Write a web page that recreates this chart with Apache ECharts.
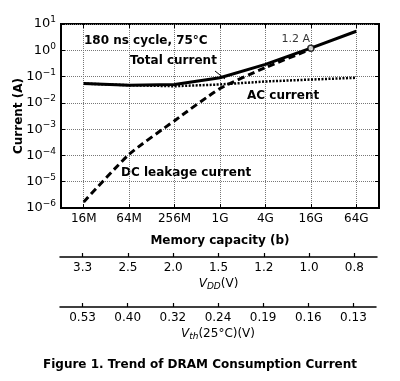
<!DOCTYPE html>
<html><head><meta charset="utf-8">
<script src="https://cdn.jsdelivr.net/npm/echarts@6/dist/echarts.min.js"></script>
<style>html,body{margin:0;padding:0;background:#fff}#c{width:400px;height:381px}</style>
</head><body><div id="c"></div>
<script>
const capacity = ['16M','64M','256M','1G','4G','16G','64G'];
const vdd = ['3.3','2.5','2.0','1.5','1.2','1.0','0.8'];
const vth = ['0.53','0.40','0.32','0.24','0.19','0.16','0.13'];
const totalCurrent = [0.054, 0.047, 0.050, 0.090, 0.29, 1.2, 5.3];
const acCurrent = [0.054, 0.047, 0.043, 0.050, 0.065, 0.077, 0.090];
const dcLeakage = [1.7e-6, 1.1e-4, 2.1e-3, 0.035, 0.22, 1.1, null];
const marker = [[5, 1.2]];

const F = '"DejaVu Sans", "Liberation Sans", sans-serif';
const chart = echarts.init(document.getElementById('c'), null, {renderer:'canvas'});
const sup = v => { const e = Math.round(Math.log10(v)); return '10{s|' + (e < 0 ? '\u2212' + (-e) : e) + '}'; };
const lowerAxis = (grid, data, nameRich) => ({
  type:'category', gridIndex:grid, data:data, position:'bottom', boundaryGap:true,
  axisLine:{show:true, lineStyle:{color:'#000', width:1.5}},
  axisTick:{show:true, inside:true, length:4, alignWithLabel:true, lineStyle:{color:'#000', width:1.2}},
  axisLabel:{color:'#000', fontSize:12, fontFamily:F, margin:5},
  splitLine:{show:false},
  name: nameRich.text, nameLocation:'middle', nameGap:nameRich.gap, nameMoveOverlap:false,
  nameTextStyle:{color:'#000', fontSize:12, fontFamily:F, rich:nameRich.rich}
});
const nameRich = {i:{fontStyle:'italic', fontSize:12, fontFamily:F}, sub:{fontStyle:'italic', fontSize:9, fontFamily:F, padding:[6,0,0,0]}, n:{fontSize:12, fontFamily:F}};
chart.setOption({
  animation:false,
  textStyle:{fontFamily:F},
  grid:[
    {left:61, right:21, top:24, bottom:173, show:true, borderColor:'#000', borderWidth:2, backgroundColor:'transparent', outerBoundsMode:'none'},
    {left:60, right:23, top:256, height:1, outerBoundsMode:'none'},
    {left:60, right:24, top:306, height:1, outerBoundsMode:'none'}
  ],
  xAxis:[
    {type:'category', gridIndex:0, data:capacity, boundaryGap:true,
     axisLine:{show:true, lineStyle:{color:'#000', width:2}},
     axisTick:{show:true, inside:true, length:4, alignWithLabel:true, lineStyle:{color:'#000'}},
     axisLabel:{color:'#000', fontSize:12, fontFamily:F, margin:5},
     splitLine:{show:true, alignWithLabel:true, lineStyle:{color:'#777', type:'dotted', width:1}},
     name:'Memory capacity (b)', nameLocation:'middle', nameGap:27, nameMoveOverlap:false,
     nameTextStyle:{color:'#000', fontSize:12, fontWeight:'bold', fontFamily:F}},
    {type:'category', gridIndex:0, data:capacity, boundaryGap:true, position:'top',
     axisLine:{show:false}, axisLabel:{show:false},
     axisTick:{show:true, inside:true, length:4, alignWithLabel:true, lineStyle:{color:'#000'}},
     splitLine:{show:false}},
    lowerAxis(1, vdd, {text:'{i|V}{sub|DD}{n|(V)}', gap:19, rich:nameRich}),
    lowerAxis(2, vth, {text:'{i|V}{sub|th}{n|(25°C)(V)}', gap:19, rich:nameRich})
  ],
  yAxis:[
    {type:'log', gridIndex:0, logBase:10, min:1e-6, max:10, interval:1,
     axisLine:{show:true, lineStyle:{color:'#000', width:2}},
     axisTick:{show:true, inside:true, length:4, lineStyle:{color:'#000'}},
     axisLabel:{color:'#000', fontSize:13, fontFamily:F, margin:5, formatter:sup,
       rich:{s:{fontSize:9, fontFamily:F, padding:[0,0,8,0]}}},
     splitLine:{show:true, lineStyle:{color:'#777', type:'dotted', width:1}},
     name:'Current (A)', nameLocation:'middle', nameGap:36, nameRotate:90, nameMoveOverlap:false,
     nameTextStyle:{color:'#000', fontSize:12, fontWeight:'bold', fontFamily:F}},
    {type:'log', gridIndex:0, logBase:10, min:1e-6, max:10, interval:1, position:'right',
     axisLine:{show:false}, axisLabel:{show:false},
     axisTick:{show:true, inside:true, length:4, lineStyle:{color:'#000'}}, splitLine:{show:false}},
    {type:'value', gridIndex:1, show:false},
    {type:'value', gridIndex:2, show:false}
  ],
  series:[
    {type:'line', name:'AC current', data:acCurrent, xAxisIndex:0, yAxisIndex:0, symbol:'none', z:3,
     lineStyle:{color:'#000', width:2.5, type:[2,1.5]}},
    {type:'line', name:'DC leakage current', data:dcLeakage, xAxisIndex:0, yAxisIndex:0, symbol:'none', smooth:0.2, z:4,
     lineStyle:{color:'#000', width:3, type:[7,4]}},
    {type:'line', name:'Total current', data:totalCurrent, xAxisIndex:0, yAxisIndex:0, symbol:'none', z:5,
     lineStyle:{color:'#000', width:3}},
    {type:'scatter', data:marker, xAxisIndex:0, yAxisIndex:0, symbol:'circle', symbolSize:6, z:6,
     itemStyle:{color:'#fff', borderColor:'#000', borderWidth:1.5},
     label:{show:true, position:'top', formatter:'1.2 A', color:'#000', fontSize:11, fontFamily:F, offset:[-15,5]}}
  ],
  graphic:[
    {type:'text', left:84, top:35, style:{text:'180 ns cycle, 75°C', font:'bold 12px ' + F, fill:'#000'}},
    {type:'text', left:130, top:55, style:{text:'Total current', font:'bold 12px ' + F, fill:'#000'}},
    {type:'line', shape:{x1:215, y1:71, x2:225, y2:79}, style:{stroke:'#000', lineWidth:1}},
    {type:'text', left:247, top:90, style:{text:'AC current', font:'bold 12px ' + F, fill:'#000'}},
    {type:'text', left:121, top:167, style:{text:'DC leakage current', font:'bold 12px ' + F, fill:'#000'}},
    {type:'text', left:'center', top:359, style:{text:'Figure 1. Trend of DRAM Consumption Current', font:'bold 12px ' + F, fill:'#000'}}
  ]
});
</script></body></html>
